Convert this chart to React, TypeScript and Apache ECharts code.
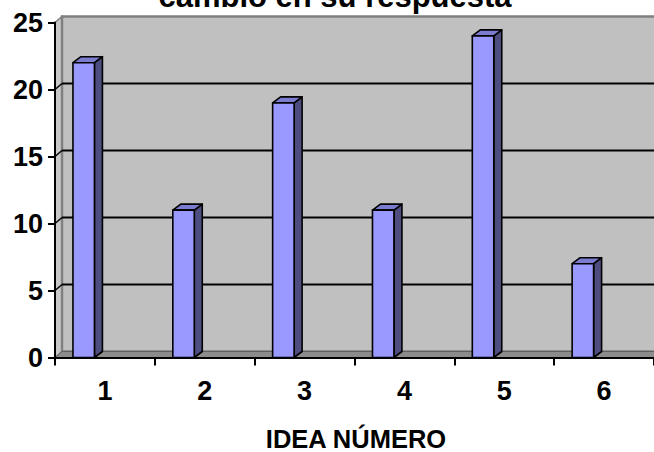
import React, { useEffect, useRef } from "react";
import * as echarts from "echarts";

const categories = ["1", "2", "3", "4", "5", "6"];
const values = [22, 11, 19, 11, 24, 7];
const yTicks = [0, 5, 10, 15, 20, 25];
const titleText = "cambio en su respuesta";
const xAxisTitle = "IDEA NÚMERO";

const FONT = 'Arial, "Liberation Sans", sans-serif';

export default function App() {
  const ref = useRef<HTMLDivElement>(null);
  useEffect(() => {
    if (!ref.current) return;
    const chart = echarts.init(ref.current, null, { renderer: "svg" });
    const WDX = 7;
    const WDY = -6;
    const option: any = {
      animation: false,
      backgroundColor: "#ffffff",
      grid: { left: 55, right: -1, top: 22.5, bottom: 94.5, containLabel: false },
      graphic: [
        {
          type: "text",
          x: 335,
          y: -4,
          z: 20,
          style: {
            text: titleText,
            font: `bold 31px ${FONT}`,
            fill: "#000",
            textAlign: "center",
            textVerticalAlign: "middle",
          },
        },
        {
          type: "text",
          x: 356,
          y: 439,
          z: 20,
          style: {
            text: xAxisTitle,
            font: `bold 25.5px ${FONT}`,
            fill: "#000",
            textAlign: "center",
            textVerticalAlign: "middle",
          },
        },
      ],
      xAxis: {
        type: "category",
        data: categories,
        boundaryGap: true,
        z: 10,
        axisLine: { show: true, lineStyle: { color: "#000", width: 2 } },
        axisTick: { show: true, length: 8, lineStyle: { color: "#000", width: 2 } },
        axisLabel: {
          color: "#000",
          fontWeight: "bold",
          fontSize: 27,
          fontFamily: FONT,
          lineHeight: 28,
          margin: 19,
        },
        splitLine: { show: false },
      },
      yAxis: {
        type: "value",
        min: 0,
        max: 25,
        interval: 5,
        z: 10,
        axisLine: { show: true, lineStyle: { color: "#000", width: 2 } },
        axisTick: { show: true, length: 7, lineStyle: { color: "#000", width: 2 } },
        axisLabel: {
          color: "#000",
          fontWeight: "bold",
          fontSize: 27,
          fontFamily: FONT,
          margin: 12,
        },
        splitLine: { show: false },
      },
      series: [
        {
          type: "custom",
          z: 1,
          clip: false,
          silent: true,
          data: [[0, 0]],
          renderItem: (params: any, api: any) => {
            const cs = params.coordSys;
            const x0 = cs.x;
            const xEnd = cs.x + cs.width + 10;
            const yBot = api.coord([0, 0])[1];
            const yTop = api.coord([0, yTicks[yTicks.length - 1]])[1];
            const children: any[] = [];
            children.push({
              type: "polygon",
              shape: {
                points: [
                  [x0, yTop],
                  [x0 + WDX, yTop + WDY],
                  [x0 + WDX, yBot + WDY],
                  [x0, yBot],
                ],
              },
              style: { fill: "#c8c8c8", stroke: "#808080", lineWidth: 1.5 },
            });
            children.push({
              type: "rect",
              shape: { x: x0 + WDX, y: yTop + WDY, width: xEnd - x0, height: yBot - yTop },
              style: { fill: "#c0c0c0", stroke: "#808080", lineWidth: 2.5 },
            });
            children.push({
              type: "polygon",
              shape: {
                points: [
                  [x0, yBot],
                  [x0 + WDX, yBot + WDY],
                  [xEnd + WDX, yBot + WDY],
                  [xEnd, yBot],
                ],
              },
              style: { fill: "#8c8c8c", stroke: "#606060", lineWidth: 1 },
            });
            yTicks.forEach((t) => {
              if (t === 0 || t === yTicks[yTicks.length - 1]) return;
              const y = api.coord([0, t])[1];
              children.push({
                type: "line",
                shape: { x1: x0 + WDX, y1: y + WDY, x2: xEnd + WDX, y2: y + WDY },
                style: { stroke: "#000", lineWidth: 2 },
              });
              children.push({
                type: "line",
                shape: { x1: x0, y1: y, x2: x0 + WDX, y2: y + WDY },
                style: { stroke: "#000", lineWidth: 1.5 },
              });
            });
            return { type: "group", children };
          },
        },
        {
          type: "custom",
          z: 3,
          clip: false,
          data: values.map((v, i) => [i, v]),
          renderItem: (params: any, api: any) => {
            const i = api.value(0);
            const v = api.value(1);
            const [cx, yT] = api.coord([i, v]);
            const yB = api.coord([i, 0])[1];
            const bw = api.size([1, 0])[0];
            const left = cx - 0.32 * bw;
            const w = 0.215 * bw;
            const dx = 8;
            const dy = -6;
            const stroke = { stroke: "#000", lineWidth: 1.6, lineJoin: "round" };
            return {
              type: "group",
              children: [
                {
                  type: "polygon",
                  shape: {
                    points: [
                      [left + w, yT],
                      [left + w + dx, yT + dy],
                      [left + w + dx, yB + dy],
                      [left + w, yB],
                    ],
                  },
                  style: { fill: "#4d4d80", ...stroke },
                },
                {
                  type: "polygon",
                  shape: {
                    points: [
                      [left, yT],
                      [left + dx, yT + dy],
                      [left + w + dx, yT + dy],
                      [left + w, yT],
                    ],
                  },
                  style: { fill: "#7b7bd0", ...stroke },
                },
                {
                  type: "rect",
                  shape: { x: left, y: yT, width: w, height: yB - yT },
                  style: { fill: "#9999ff", ...stroke },
                },
              ],
            };
          },
        },
      ],
    };
    chart.setOption(option);
    return () => chart.dispose();
  }, []);
  return (
    <div
      ref={ref}
      style={{ position: "fixed", left: 0, top: 0, width: 654, height: 452, background: "#fff" }}
    />
  );
}
